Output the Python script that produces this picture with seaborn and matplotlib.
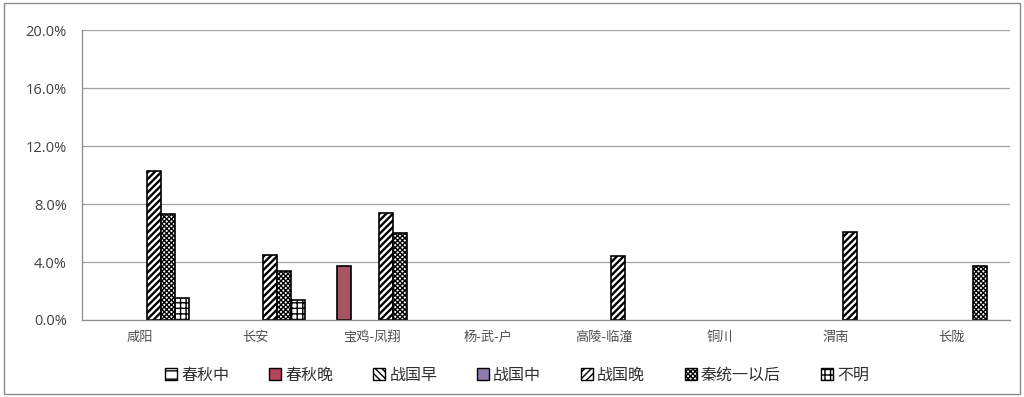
import numpy as np
import pandas as pd
import matplotlib
matplotlib.use("Agg")
import matplotlib.pyplot as plt
import seaborn as sns
from matplotlib.patches import Patch, Rectangle
from matplotlib.ticker import FuncFormatter, FixedLocator

# categories and series (percent)
places = ['咸阳', '长安', '宝鸡-凤翔', '杨-武-户', '高陵-临潼', '铜川', '渭南', '长陇']
periods = ['春秋中', '春秋晚', '战国早', '战国中', '战国晚', '秦统一以后', '不明']
chunqiu_zhong = [0, 0, 0, 0, 0, 0, 0, 0]
chunqiu_wan = [0, 0, 3.7, 0, 0, 0, 0, 0]
zhanguo_zao = [0, 0, 0, 0, 0, 0, 0, 0]
zhanguo_zhong = [0, 0, 0, 0, 0, 0, 0, 0]
zhanguo_wan = [10.3, 4.5, 7.4, 0, 4.4, 0, 6.1, 0]
qin_after = [7.3, 3.4, 6.0, 0, 0, 0, 0, 3.7]
buming = [1.5, 1.4, 0, 0, 0, 0, 0, 0]

series = [chunqiu_zhong, chunqiu_wan, zhanguo_zao, zhanguo_zhong,
          zhanguo_wan, qin_after, buming]
rows = []
for per, vals in zip(periods, series):
    for pl, v in zip(places, vals):
        rows.append({'地点': pl, '时期': per, '比例': v})
df = pd.DataFrame(rows)

colors = ['white', '#b5465a', 'white', '#8e7bb0', 'white', 'white', 'white']
hatches = ['--', None, '\\\\\\\\\\', None, '/////', 'xxxxxxx', '+++']
hatch_lw = [1.0, 1.0, 1.7, 1.0, 1.7, 1.0, 1.0]

sns.set_style('white')
plt.rcParams['font.family'] = ['Noto Sans CJK SC', 'DejaVu Sans']


def set_hlw(patch, lw):
    if hasattr(patch, 'set_hatch_linewidth'):
        patch.set_hatch_linewidth(lw)
    else:
        patch._hatch_linewidth = lw


fig = plt.figure(figsize=(10.24, 3.97), dpi=100)
ax = fig.add_axes([0.080, 0.194, 0.906, 0.730])

sns.barplot(data=df, x='地点', y='比例', hue='时期', order=places,
            hue_order=periods, palette=colors, width=0.845,
            edgecolor='black', linewidth=1.2, legend=False, ax=ax)

for cont, h, lw in zip(ax.containers, hatches, hatch_lw):
    for bar in cont:
        if bar.get_height() == 0:
            bar.set_visible(False)
        elif h:
            bar.set_hatch(h)
            set_hlw(bar, lw)

ax.set_ylim(0, 20)
ax.set_xlim(-0.5, len(places) - 0.5)
ax.yaxis.set_major_locator(FixedLocator([0, 4, 8, 12, 16, 20]))
ax.yaxis.set_major_formatter(FuncFormatter(lambda v, p: f'{v:.1f}%'))
ax.grid(axis='y', color='#a0a0a0', linewidth=0.9)
ax.set_axisbelow(True)
ax.set_xlabel('')
ax.set_ylabel('')
for s in ['top', 'right']:
    ax.spines[s].set_visible(False)
for s in ['left', 'bottom']:
    ax.spines[s].set_color('#8c8c8c')
    ax.spines[s].set_linewidth(0.9)

ax.tick_params(axis='y', length=5, color='#8c8c8c', labelsize=10.5,
               labelcolor='#404040', pad=6)
ax.tick_params(axis='x', which='major', length=0, labelsize=9.5,
               labelcolor='#505050', pad=8)
ax.set_xticks(np.arange(-0.5, len(places), 1.0), minor=True)
ax.tick_params(axis='x', which='minor', length=5, color='#8c8c8c')
for t in ax.get_yticklabels():
    t.set_family(['Open Sans', 'DejaVu Sans'])

handles = []
for c, h, lw in zip(colors, hatches, hatch_lw):
    p = Patch(facecolor=c, edgecolor='black', hatch=h, linewidth=1.0)
    set_hlw(p, lw)
    handles.append(p)
fig.legend(handles, periods, loc='center', bbox_to_anchor=(0.505, 0.055),
           ncol=7, frameon=False, fontsize=11.5, handlelength=0.75,
           handleheight=0.75, handletextpad=0.25, columnspacing=2.5,
           labelcolor='#303030')

fig.patches.append(Rectangle((0.004, 0.008), 0.992, 0.984,
                             transform=fig.transFigure, fill=False,
                             edgecolor='#8c8c8c', linewidth=1.0))

fig.savefig('out.png', dpi=100)
